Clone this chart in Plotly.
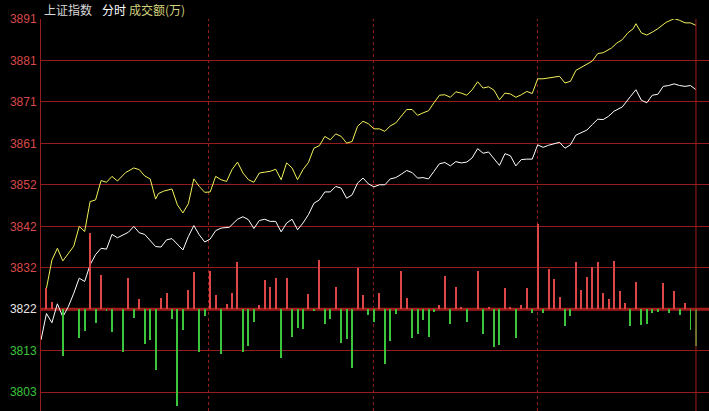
import plotly.graph_objects as go

# ---------------- data ----------------
prev_close = 3822.4
tick_step = 9.857
tick_labels = ["3803", "3813", "3822", "3832", "3842", "3852", "3861", "3871", "3881", "3891"]

yellow_t = [2, 4, 6, 8, 12, 14, 16, 18, 20, 22, 24, 26, 28, 31, 34, 36, 38, 40, 42, 43, 45, 48, 50, 52,
            54, 56, 58, 60, 62, 64, 66, 68, 70, 72, 74, 76, 78, 80, 82, 84, 86, 88, 90, 92, 94, 96, 98,
            100, 102, 104, 106, 108, 110, 112, 114, 116, 118, 120, 122, 124, 126, 128, 130, 132, 134,
            136, 138, 140, 142, 144, 146, 148, 150, 152, 154, 156, 158, 160, 162, 164, 166, 168, 170,
            172, 174, 176, 178, 180, 182, 184, 187, 190, 192, 194, 196, 198, 200, 202, 204, 206, 209,
            211, 213, 215, 217, 218, 220, 222, 224, 226, 229, 231, 232, 234, 236, 238, 240]
yellow_v = [3827.4, 3834.1, 3836.9, 3833.9, 3837.4, 3842.1, 3840.9, 3848.0, 3848.4, 3853.0, 3852.6,
            3854.0, 3852.9, 3854.9, 3856.0, 3855.6, 3854.1, 3853.4, 3848.6, 3849.9, 3850.5, 3851.0,
            3847.2, 3845.3, 3847.5, 3853.4, 3851.6, 3850.2, 3850.3, 3854.0, 3853.2, 3852.8, 3855.6,
            3857.4, 3854.8, 3853.2, 3852.6, 3854.8, 3855.0, 3855.2, 3855.7, 3853.2, 3857.2, 3856.0,
            3853.2, 3855.6, 3857.3, 3860.7, 3861.3, 3863.5, 3862.7, 3864.1, 3863.5, 3861.9, 3862.3,
            3865.9, 3867.1, 3866.5, 3865.3, 3865.3, 3864.7, 3866.0, 3866.7, 3868.3, 3869.9, 3869.9,
            3868.5, 3869.1, 3869.6, 3871.5, 3873.3, 3873.4, 3872.8, 3874.1, 3873.8, 3873.3, 3874.6,
            3876.5, 3875.0, 3875.3, 3874.5, 3872.2, 3873.8, 3873.6, 3872.8, 3873.4, 3874.2, 3873.7,
            3877.2, 3877.2, 3877.5, 3877.8, 3876.2, 3876.6, 3879.2, 3879.9, 3880.6, 3881.4, 3883.2,
            3883.4, 3884.5, 3885.7, 3886.5, 3888.1, 3889.1, 3890.3, 3888.1, 3887.6, 3888.3, 3889.1,
            3890.6, 3891.2, 3891.5, 3891.1, 3890.5, 3890.5, 3889.9]

white_t = [0, 2, 4, 6, 8, 10, 12, 14, 16, 18, 20, 22, 24, 26, 28, 30, 32, 34, 36, 38, 40, 42, 44, 46,
           48, 50, 52, 54, 56, 58, 60, 62, 64, 66, 69, 72, 74, 76, 78, 80, 82, 84, 86, 88, 90, 92, 94,
           96, 98, 100, 102, 104, 106, 108, 110, 112, 114, 116, 118, 120, 122, 124, 126, 128, 130, 132,
           134, 136, 138, 140, 142, 144, 146, 148, 150, 152, 154, 156, 158, 160, 162, 164, 166, 168,
           170, 172, 174, 176, 178, 180, 182, 184, 186, 188, 190, 192, 194, 196, 198, 200, 202, 204,
           206, 208, 210, 213, 216, 218, 220, 222, 224, 226, 228, 230, 232, 234, 236, 238, 240]
white_v = [3815.1, 3821.4, 3819.2, 3823.7, 3820.6, 3823.0, 3826.2, 3829.8, 3829.0, 3833.0, 3835.4,
           3836.9, 3836.7, 3840.2, 3839.4, 3840.0, 3840.7, 3842.1, 3840.6, 3840.2, 3838.7, 3837.3,
           3837.2, 3838.9, 3839.2, 3837.9, 3836.5, 3839.7, 3842.3, 3840.1, 3838.4, 3839.1, 3841.1,
           3841.7, 3841.9, 3843.8, 3844.4, 3843.7, 3841.6, 3843.5, 3843.8, 3843.3, 3843.3, 3840.8,
           3842.9, 3843.8, 3841.3, 3842.9, 3844.9, 3847.6, 3848.4, 3850.3, 3850.3, 3851.6, 3851.2,
           3848.8, 3849.6, 3852.4, 3853.6, 3852.2, 3851.5, 3852.0, 3852.0, 3853.4, 3853.7, 3854.5,
           3855.4, 3854.9, 3853.6, 3853.7, 3853.4, 3855.2, 3857.0, 3857.3, 3856.5, 3857.5, 3857.2,
           3857.4, 3858.4, 3860.6, 3859.5, 3859.8, 3858.1, 3856.6, 3859.4, 3858.9, 3856.5, 3858.0,
           3858.1, 3858.1, 3861.5, 3860.9, 3861.4, 3861.7, 3862.1, 3860.7, 3861.5, 3863.8, 3864.4,
           3865.0, 3866.3, 3867.6, 3867.5, 3868.3, 3869.5, 3870.5, 3873.0, 3874.6, 3872.1, 3871.5,
           3873.3, 3873.5, 3875.4, 3875.6, 3876.0, 3875.6, 3875.4, 3875.6, 3874.6]

bar_t = [2, 4, 8, 14, 16, 18, 20, 22, 24, 26, 30, 32, 34, 36, 38, 40, 42, 44, 46, 48, 50, 52, 54, 56,
         58, 60, 62, 64, 66, 68, 70, 72, 74, 76, 78, 80, 82, 84, 86, 88, 90, 92, 94, 96, 98, 100, 102,
         104, 106, 108, 110, 112, 114, 116, 118, 120, 122, 124, 126, 128, 130, 132, 134, 136, 138, 140,
         142, 144, 146, 148, 150, 152, 154, 156, 160, 162, 164, 166, 168, 170, 172, 174, 176, 178, 180,
         182, 184, 186, 188, 190, 192, 194, 196, 198, 200, 202, 204, 206, 208, 210, 212, 214, 216, 218,
         220, 222, 224, 226, 228, 230, 232, 234, 236, 238, 240]
bar_v = [21, 7, -47, -29, -22, 76, -14, 34, -1, -23, -43, 31, -9, 10, -35, -31, -61, 11, 16, -10, -97,
         -21, 19, 37, -43, -7, 38, 14, -45, 5, 16, 47, -43, -37, -13, 4, 29, 22, 31, -49, 31, -28, -19,
         -20, 15, -2, 49, -15, -10, 22, -34, -30, -59, 41, 14, -6, -13, 16, -55, -32, -5, 38, 11, -29,
         -25, -11, -28, -3, 4, 33, -15, 22, 2, -13, 38, -25, 2, -38, -36, 21, 2, -29, 4, 21, -4, 85, -4,
         40, 30, 12, -17, -7, 47, 19, 32, 42, 47, 16, 10, 48, 18, 6, -17, 27, -16, -15, -4, -3, 26, -4,
         18, -6, 6, -21, -37]

# ---------------- styles ----------------
GRID = "#961c1c"
RED_TXT = "#d84a4a"
GREEN_TXT = "#3cc43c"
WHITE_TXT = "#e6e6e6"

tick_vals = [prev_close + (k - 2) * tick_step for k in range(len(tick_labels))]
tick_colors = [GREEN_TXT, GREEN_TXT, WHITE_TXT] + [RED_TXT] * 7
tick_text = [f"<span style='color:{c}'>{t}</span>" for t, c in zip(tick_labels, tick_colors)]

fig_w, fig_h = 709, 411
m_left, m_top = 41, 19
plot_w = fig_w - m_left
plot_h = fig_h - m_top

px_per_min = 2.729
x_max = plot_w / px_per_min

y_top = prev_close + 7 * tick_step + 0.02
y_bot = y_top - plot_h / 4.2056

fig = go.Figure()

fig.add_trace(go.Bar(
    x=bar_t, y=bar_v, yaxis="y2", width=0.366,
    marker=dict(color=["#dc4646" if v > 0 else "#3cc43c" for v in bar_v], line=dict(width=0)),
    hoverinfo="skip", showlegend=False,
))
fig.add_trace(go.Scatter(x=white_t, y=white_v, mode="lines",
                         line=dict(color="#ffffff", width=1), showlegend=False))
fig.add_trace(go.Scatter(x=yellow_t, y=yellow_v, mode="lines",
                         line=dict(color="#f2f25a", width=1), showlegend=False))

shapes = [
    dict(type="line", xref="paper", x0=0, x1=1, yref="y", y0=prev_close, y1=prev_close,
         line=dict(color="#a81c1c", width=3), layer="below"),
    dict(type="line", xref="x", x0=240, x1=240, yref="paper", y0=0, y1=1,
         line=dict(color="#a01e1e", width=1)),
]
for xv in [61.4, 121.8, 181.9]:
    shapes.append(dict(type="line", xref="x", x0=xv, x1=xv, yref="paper", y0=0, y1=1,
                       line=dict(color="#9a1e1e", width=1, dash="dot"), layer="below"))

title_font = "Noto Sans CJK SC"
annotations = [
    dict(text="上证指数", x=(42 - 41) / plot_w, font=dict(color="#d8d8d8")),
    dict(text="分时", x=(100 - 41) / plot_w, font=dict(color="#ffffff")),
    dict(text="成交额(万)", x=(127 - 41) / plot_w, font=dict(color="#d2d27c")),
]
for a in annotations:
    a.update(xref="paper", yref="paper", y=1, yshift=10, xanchor="left", yanchor="middle",
             showarrow=False)
    a["font"].update(family=title_font, size=12)

fig.update_layout(
    width=fig_w, height=fig_h,
    margin=dict(l=m_left, r=0, t=m_top, b=0, autoexpand=False),
    paper_bgcolor="#000000", plot_bgcolor="#000000",
    xaxis=dict(range=[0, x_max], showgrid=False, zeroline=False, showticklabels=False,
               showline=False, fixedrange=True, automargin=False),
    yaxis=dict(range=[y_bot, y_top], tickmode="array", tickvals=tick_vals, ticktext=tick_text,
               showgrid=True, gridcolor=GRID, gridwidth=1, zeroline=False,
               showline=True, linecolor=GRID, linewidth=1, ticks="",
               ticklabelstandoff=1, automargin=False,
               tickfont=dict(family="Liberation Sans", size=12, color=RED_TXT)),
    yaxis2=dict(range=[-(plot_h - 290.3), 290.3], overlaying="y", showgrid=False, zeroline=False,
                showticklabels=False, showline=False, side="right", automargin=False),
    shapes=shapes,
    annotations=annotations,
    bargap=0,
)

# remove the browser's default 8px body margin so the figure sits at the window origin
fig.write_html("out.html",
               config={"displayModeBar": False},
               post_script="document.body.style.margin='0px';document.body.style.background='#000';")
